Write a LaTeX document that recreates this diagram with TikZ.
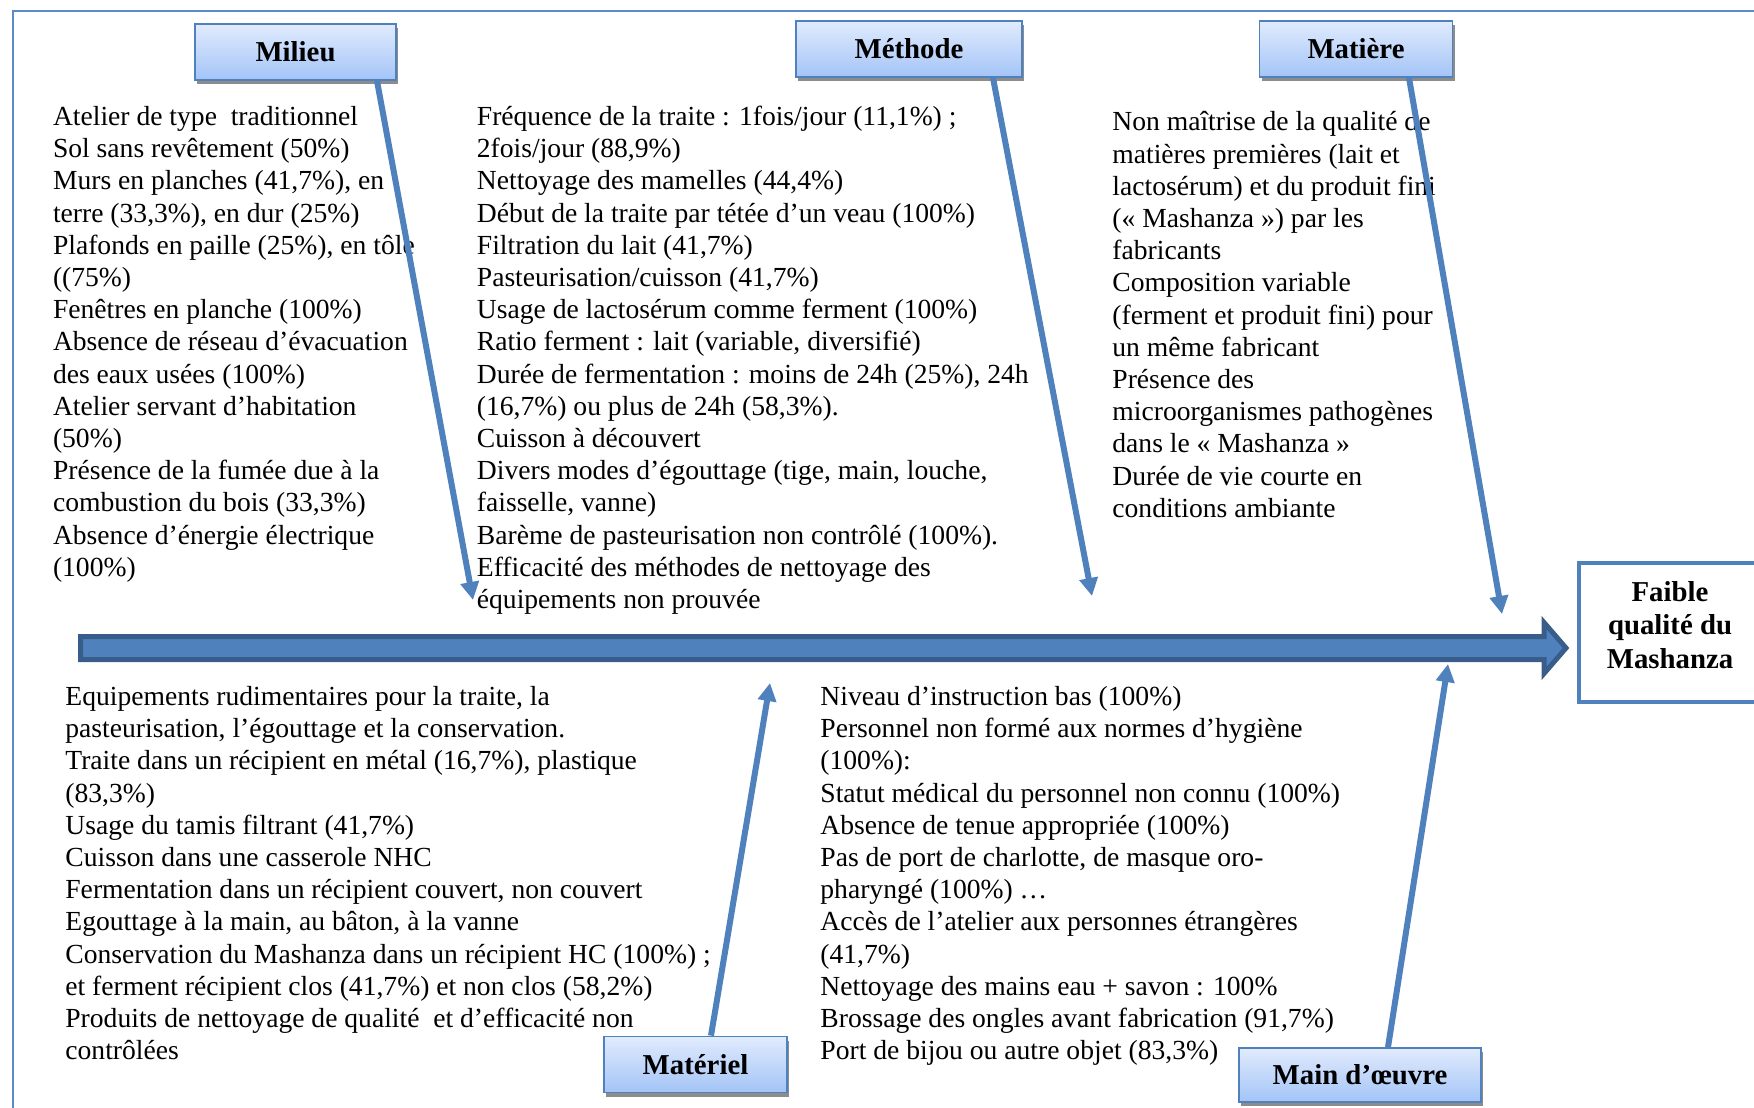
\documentclass[tikz,border=0pt]{standalone}
\usepackage{fontspec}
\setmainfont{Liberation Serif}
\usetikzlibrary{arrows.meta,shadows}
\definecolor{accent}{HTML}{4F81BD}
\definecolor{accentdark}{HTML}{385D8A}
\definecolor{framecol}{HTML}{5B8BC8}
\definecolor{boxtop}{HTML}{E1EBFD}
\definecolor{boxbot}{HTML}{A3C4F7}
\newcommand{\bodyfont}{\fontsize{13.8}{16.1}\selectfont}
\newcommand{\headfont}{\fontsize{14.4}{16.75}\selectfont\bfseries}
\begin{document}
\begin{tikzpicture}[x=0.5pt,y=-0.5pt,
  header/.style={draw=accent, line width=0.9pt, top color=boxtop, bottom color=boxbot,
    font=\headfont, inner sep=0pt, minimum height=28pt,
    drop shadow={shadow xshift=1pt, shadow yshift=-2.2pt, fill=black!45, opacity=1}},
  textblk/.style={anchor=north west, inner sep=0pt, align=left, font=\bodyfont},
  branch/.style={draw=accent, line width=3pt, -{Triangle[length=9pt,width=9pt]}},
  effectbox/.style={draw=accent, line width=2pt,
    minimum width=91pt, minimum height=69.5pt, inner sep=0pt},
  effecttext/.style={font=\headfont, align=center, inner sep=0pt}
]
\useasboundingbox (0,0) rectangle (1754,1107);
\clip (0,0) rectangle (1754,1107);
% frame
\draw[framecol, line width=0.75pt] (13,1120) -- (13,11) -- (1770,11);

% main spine
\path[fill=accent, draw=accentdark, line width=2.5pt, line join=miter]
  (80.5,636.5) -- (1544,636.5) -- (1544,622.5) -- (1566,648) -- (1544,673.5)
  -- (1544,659.5) -- (80.5,659.5) -- cycle;

% effect
\node[effectbox] (effect) at (1670,632.5) {};
\node[effecttext] (effectT) at (1670,625) {Faible\\qualité du\\Mashanza};

% headers
\node[header, minimum width=100.5pt] (milieu) at (295.5,52) {Milieu};
\node[header, minimum width=113pt] (methode) at (909,49) {Méthode};
\node[header, minimum width=96.5pt] (matiere) at (1356,49) {Matière};
\node[header, minimum width=91.5pt] (materiel) at (695.5,1064.5) {Matériel};
\node[header, minimum width=121pt, minimum height=27pt] (mainoeuvre) at (1360,1075) {Main d’œuvre};

% text blocks
\node[textblk] (milieuT) at (52.6,102.5) {\strut Atelier de type\ \ traditionnel\\
Sol sans revêtement (50\%)\\
Murs en planches (41,7\%), en\\
terre (33,3\%), en dur (25\%)\\
Plafonds en paille (25\%), en tôle\\
((75\%)\\
Fenêtres en planche (100\%)\\
Absence de réseau d’évacuation\\
des eaux usées (100\%)\\
Atelier servant d’habitation\\
(50\%)\\
Présence de la fumée due à la\\
combustion du bois (33,3\%)\\
Absence d’énergie électrique\\
(100\%)};

\node[textblk] (methodeT) at (476.5,102.5) {\strut Fréquence de la traite : 1fois/jour (11,1\%) ;\\
2fois/jour (88,9\%)\\
Nettoyage des mamelles (44,4\%)\\
Début de la traite par tétée d’un veau (100\%)\\
Filtration du lait (41,7\%)\\
Pasteurisation/cuisson (41,7\%)\\
Usage de lactosérum comme ferment (100\%)\\
Ratio ferment : lait (variable, diversifié)\\
Durée de fermentation : moins de 24h (25\%), 24h\\
(16,7\%) ou plus de 24h (58,3\%).\\
Cuisson à découvert\\
Divers modes d’égouttage (tige, main, louche,\\
faisselle, vanne)\\
Barème de pasteurisation non contrôlé (100\%).\\
Efficacité des méthodes de nettoyage des\\
équipements non prouvée};

\node[textblk] (matiereT) at (1112,108) {\strut Non maîtrise de la qualité de\\
matières premières (lait et\\
lactosérum) et du produit fini\\
(« Mashanza ») par les\\
fabricants\\
Composition variable\\
(ferment et produit fini) pour\\
un même fabricant\\
Présence des\\
microorganismes pathogènes\\
dans le « Mashanza »\\
Durée de vie courte en\\
conditions ambiante};

\node[textblk] (materielT) at (65,682.5) {\strut Equipements rudimentaires pour la traite, la\\
pasteurisation, l’égouttage et la conservation.\\
Traite dans un récipient en métal (16,7\%), plastique\\
(83,3\%)\\
Usage du tamis filtrant (41,7\%)\\
Cuisson dans une casserole NHC\\
Fermentation dans un récipient couvert, non couvert\\
Egouttage à la main, au bâton, à la vanne\\
Conservation du Mashanza dans un récipient HC (100\%) ;\\
et ferment récipient clos (41,7\%) et non clos (58,2\%)\\
Produits de nettoyage de qualité\ \ et d’efficacité non\\
contrôlées};

\node[textblk] (mainoeuvreT) at (820,682.5) {\strut Niveau d’instruction bas (100\%)\\
Personnel non formé aux normes d’hygiène\\
(100\%):\\
Statut médical du personnel non connu (100\%)\\
Absence de tenue appropriée (100\%)\\
Pas de port de charlotte, de masque oro-\\
pharyngé (100\%) …\\
Accès de l’atelier aux personnes étrangères\\
(41,7\%)\\
Nettoyage des mains eau + savon : 100\%\\
Brossage des ongles avant fabrication (91,7\%)\\
Port de bijou ou autre objet (83,3\%)};

% branch arrows
\coordinate (milS) at (377,80);
\coordinate (milE) at (473,600);
\coordinate (metS) at (993,78);
\coordinate (metE) at (1092,596);
\coordinate (matS) at (1409,78);
\coordinate (matE) at (1502,614);
\coordinate (melS) at (711,1037);
\coordinate (melE) at (770,683);
\coordinate (moeS) at (1388,1048);
\coordinate (moeE) at (1448,664);
\draw[branch] (milieu.south -| milS) -- (milE);
\draw[branch] (methode.south -| metS) -- (metE);
\draw[branch] (matiere.south -| matS) -- (matE);
\draw[branch] (materiel.north -| melS) -- (melE);
\draw[branch] (mainoeuvre.north -| moeS) -- (moeE);
\end{tikzpicture}
\end{document}
